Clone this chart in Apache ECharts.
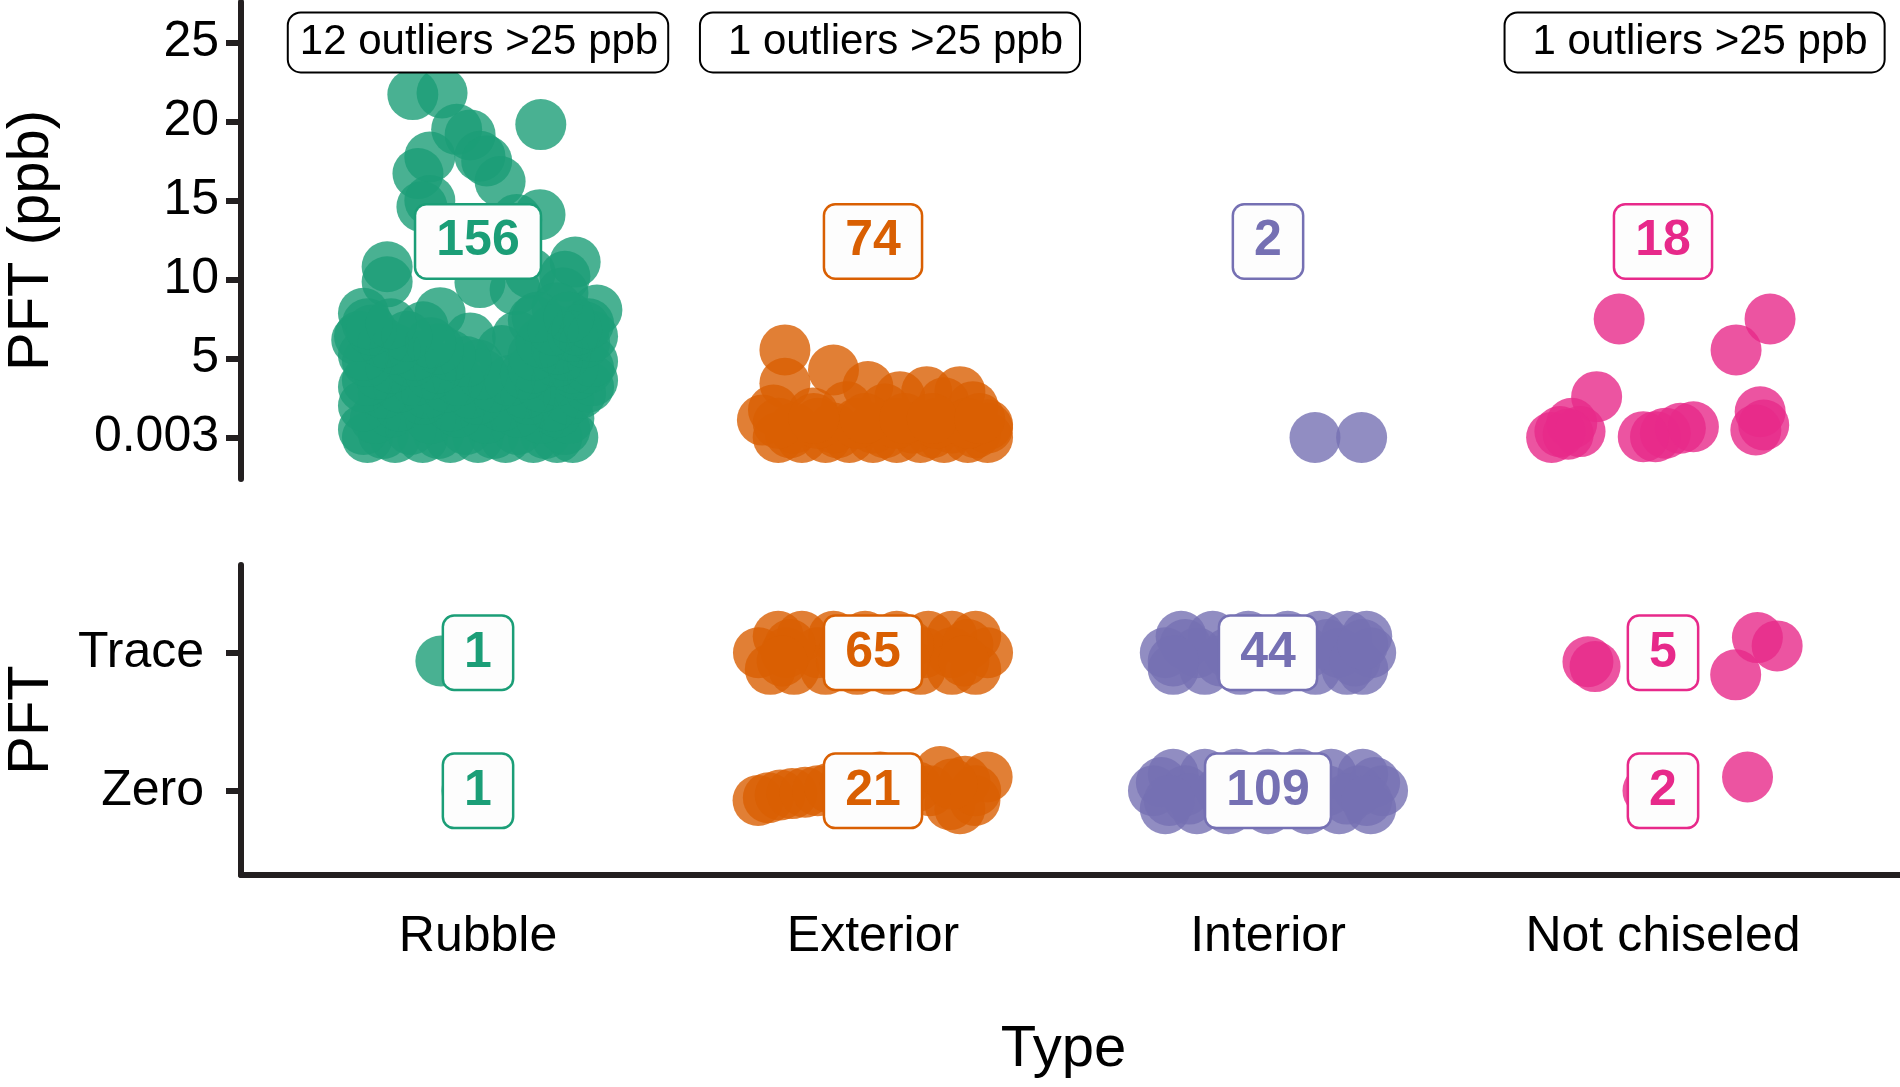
<!DOCTYPE html>
<html><head><meta charset="utf-8">
<script src="https://cdn.jsdelivr.net/npm/echarts@6/dist/echarts.min.js"></script>
<style>html,body{margin:0;padding:0;background:#fff}#c{width:1900px;height:1087px}</style>
</head><body><div id="c"></div>
<script>
// ---------- data ----------
const categories = ['Rubble', 'Exterior', 'Interior', 'Not chiseled'];
const colors = ['#1B9E77', '#D95F02', '#7570B3', '#E7298A'];
const yTickValues = [0, 5, 10, 15, 20, 25];
const yTickLabels = ['0.003', '5', '10', '15', '20', '25'];
const lowTickValues = [1, 2];
const lowTickLabels = ['Zero', 'Trace'];
const countsTop = [156, 74, 2, 18];
const countsTrace = [1, 65, 44, 5];
const countsZero = [1, 21, 109, 2];
const outlierText = ['12 outliers >25 ppb', '1 outliers >25 ppb', '1 outliers >25 ppb'];
const outlierX = [1, 2.043, 4.08];
const outlierY = 25;
const countLabelY = 12.4;

// top panel (ppb) points: [jittered x, value]
const rubbleTop = [
  [0.835,21.7],[0.909,21.8],[1.159,19.8],[0.98,19.15],[0.946,19.5],[0.878,17.75],[1.005,17.8],[1.022,17.5],
  [0.848,16.7],[1.056,16.2],[0.878,15.0],[0.858,14.6],[1.157,14.1],[1.098,13.8],[0.95,13.0],[1.05,12.5],
  [0.77,10.8],[0.77,9.85],[1.246,11.1],[1.22,10.2],[1.005,9.8],[1.094,9.35],[1.132,10.4],[0.904,7.9],
  [1.301,8.07],[1.27,7.0],[0.71,7.86],[0.693,6.17],[0.861,7.0],[1.215,9.15],
  [1.0,4.6],[1.06,5.5],[1.1,6.4],[0.98,6.3],[1.14,7.4],[1.2,8.2],
  [0.72,0],[0.79,0],[0.86,0],[0.93,0],[1.0,0],[1.07,0],[1.14,0],[1.2,0],[1.24,0],
  [0.76,0.25],[0.9,0.25],[1.04,0.25],[1.17,0.25],
  [0.71,0.5],[0.83,0.5],[0.97,0.5],[1.1,0.5],[1.22,0.5],
  [0.74,1.2],[0.88,1.2],[1.02,1.2],[1.16,1.2],[1.23,1.2],
  [0.78,1.6],[0.95,1.6],[1.1,1.6],[1.2,1.6],
  [0.71,2.0],[0.8,2.0],[0.93,2.0],[1.06,2.0],[1.19,2.0],
  [0.86,2.4],[1.0,2.4],[1.13,2.4],[1.23,2.4],
  [0.76,2.8],[0.87,2.8],[0.98,2.8],[1.12,2.8],[1.26,2.8],
  [0.71,3.2],[0.8,3.2],[0.92,3.2],[1.04,3.2],[1.16,3.2],[1.28,3.2],
  [0.72,3.6],[0.84,3.6],[0.95,3.6],[1.08,3.6],[1.2,3.6],[1.29,3.6],
  [0.75,4.0],[0.88,4.0],[1.01,4.0],[1.12,4.0],[1.25,4.0],
  [0.78,4.4],[0.9,4.4],[1.14,4.4],[1.24,4.4],[1.28,4.4],
  [0.72,4.8],[0.83,4.8],[0.97,4.8],[1.2,4.8],[1.29,4.8],
  [0.71,5.2],[0.84,5.2],[0.93,5.2],[1.14,5.2],[1.22,5.2],
  [0.79,5.6],[0.9,5.6],[1.2,5.6],
  [0.76,6.0],[0.88,6.0],[1.16,6.0],[1.27,6.0],
  [0.7,6.4],[0.82,6.4],[1.24,6.4],[1.29,6.4],
  [0.73,6.8],[1.19,6.8],[1.25,6.8],
  [0.72,7.2],[0.78,7.2],[1.28,7.2],
  [1.15,7.6],[1.23,7.6]
];
const exteriorTop = [
  [1.777,5.54],[1.9,4.27],[1.777,3.43],[1.987,3.22],[2.068,2.58],[2.136,2.9],[2.22,2.9],[2.29,0.8],
  [1.72,1.1],[1.748,1.74],[1.848,1.55],[1.933,1.95],[2.253,1.95],[2.18,2.2],[2.03,1.8],
  [1.76,0],[1.82,0],[1.88,0],[1.94,0],[2.0,0],[2.06,0],[2.12,0],[2.18,0],[2.24,0],[2.29,0],
  [1.79,0.3],[1.91,0.3],[2.03,0.3],[2.15,0.3],[2.26,0.3],
  [1.8,0.6],[1.9,0.6],[2.0,0.6],[2.1,0.6],[2.2,0.6],[2.29,0.6],
  [1.76,0.9],[1.86,0.9],[1.96,0.9],[2.06,0.9],[2.16,0.9],[2.24,0.9],
  [1.85,1.2],[1.98,1.2],[2.08,1.2],[2.15,1.2],[2.27,1.2]
];
const interiorTop = [[3.119,0],[3.237,0]];
const notChiseledTop = [
  [3.889,7.5],[4.271,7.5],[4.185,5.54],[3.832,2.58],[4.246,1.63],[4.255,0.79],[4.235,0.47],
  [3.718,0],[3.769,0.9],[3.79,0.37],[3.739,0.37],[3.981,0.05],[4.006,0.27],[4.044,0.58],
  [4.077,0.68],[3.95,0.05],[3.76,0.2]
];

// bottom panel (Zero = 1, Trace = 2) points: [jittered x, jittered level]
const rubbleLow = [[0.906,1.94],[0.972,1.0]];
const exteriorLow = [
  [1.76,2.12],[1.82,2.12],[1.9,2.12],[1.98,2.12],[2.06,2.12],[2.14,2.12],[2.2,2.12],[2.26,2.12],
  [1.71,2.0],[1.78,2.0],[1.86,2.0],[1.95,2.0],[2.05,2.0],[2.13,2.0],[2.2,2.0],[2.29,2.0],
  [1.74,1.88],[1.8,1.88],[1.88,1.88],[1.96,1.88],[2.04,1.88],[2.12,1.88],[2.2,1.88],[2.26,1.88],
  [1.79,2.06],[1.93,2.06],[2.09,2.06],[2.24,2.06],[1.77,1.94],[1.92,1.94],[2.08,1.94],[2.23,1.94],
  [1.709,0.93],[1.735,0.95],[1.765,0.97],[1.795,0.98],[1.828,0.99],[1.86,1.0],[1.891,1.02],
  [1.93,1.05],[1.967,1.07],[2.018,1.1],[2.05,1.08],[2.081,1.06],[2.11,1.03],
  [2.144,1.0],[2.195,0.9],[2.233,1.07],[2.289,1.1],[2.22,0.87],[2.17,1.14],[1.955,0.93],[2.258,0.93],
  [2.26,1.0],[2.2,1.05]
];
const interiorLow = [
  [2.78,2.12],[2.86,2.12],[2.95,2.12],[3.05,2.12],[3.13,2.12],[3.2,2.12],[3.25,2.12],
  [2.74,2.0],[2.82,2.0],[2.9,2.0],[3.0,2.0],[3.1,2.0],[3.18,2.0],[3.26,2.0],
  [2.76,1.88],[2.84,1.88],[2.93,1.88],[3.03,1.88],[3.12,1.88],[3.2,1.88],[3.24,1.88],
  [2.79,2.06],[2.88,1.94],[3.15,2.06],[3.22,1.94],[2.76,1.94],[3.24,2.06],
  [2.76,1.12],[2.84,1.12],[2.92,1.12],[3.0,1.12],[3.08,1.12],[3.16,1.12],[3.24,1.12],
  [2.71,1.0],[2.79,1.0],[2.88,1.0],[2.97,1.0],[3.06,1.0],[3.15,1.0],[3.23,1.0],[3.29,1.0],
  [2.74,0.87],[2.82,0.87],[2.9,0.87],[3.0,0.87],[3.1,0.87],[3.18,0.87],[3.26,0.87],
  [2.73,1.06],[2.8,0.94],[3.2,0.94],[3.27,1.06],[3.25,0.93],[2.75,0.93]
];
const notChiseledLow = [[3.81,1.935],[3.828,1.9],[4.184,1.84],[4.239,2.11],[4.289,2.05],[4.214,1.1],[3.962,1.0]];

const topGroups = [rubbleTop, exteriorTop, interiorTop, notChiseledTop];
const lowGroups = [rubbleLow, exteriorLow, interiorLow, notChiseledLow];

// ---------- chart ----------
const FONT = "'Liberation Sans', Arial, Helvetica, sans-serif";
const AXIS = '#231f20';
const chart = echarts.init(document.getElementById('c'), null, {renderer: 'canvas'});

function lookup(vals, labels, v) {
  const i = vals.findIndex(t => Math.abs(t - v) < 1e-6);
  return i < 0 ? '' : labels[i];
}
function countLabel(n, color) {
  return {
    show: true, position: 'inside', formatter: String(n), opacity: 1,
    color: color, fontSize: 50, fontWeight: 'bold', fontFamily: FONT, lineHeight: 50,
    backgroundColor: '#fdfdfd', borderColor: color, borderWidth: 2.5, borderRadius: 10,
    padding: [11, 20, 11, 20]
  };
}

const series = [];
topGroups.forEach((pts, i) => series.push({
  type: 'scatter', xAxisIndex: 0, yAxisIndex: 0, data: pts, symbol: 'circle', symbolSize: 51,
  itemStyle: {color: colors[i], opacity: 0.8}, silent: true, clip: false, z: 2
}));
lowGroups.forEach((pts, i) => series.push({
  type: 'scatter', xAxisIndex: 1, yAxisIndex: 1, data: pts, symbol: 'circle', symbolSize: 51,
  itemStyle: {color: colors[i], opacity: 0.8}, silent: true, clip: false, z: 2
}));

const topLabels = countsTop.map((n, i) => ({value: [i + 1, countLabelY], label: countLabel(n, colors[i])}));
outlierText.forEach((t, k) => topLabels.push({
  value: [outlierX[k], outlierY],
  label: {
    show: true, position: 'inside', formatter: t, opacity: 1, color: '#000', fontSize: 42, fontFamily: FONT, lineHeight: 42,
    backgroundColor: '#fff', borderColor: '#000', borderWidth: 2, borderRadius: 12,
    padding: k === 0 ? [8, 9, 8, 11] : [8, 16, 8, 27]
  }
}));
series.push({
  type: 'scatter', xAxisIndex: 0, yAxisIndex: 0, data: topLabels, symbolSize: 1,
  itemStyle: {color: 'rgba(0,0,0,0)', opacity: 1}, silent: true, clip: false, z: 10
});
const lowLabels = [];
countsTrace.forEach((n, i) => lowLabels.push({value: [i + 1, 2], label: countLabel(n, colors[i])}));
countsZero.forEach((n, i) => lowLabels.push({value: [i + 1, 1], label: countLabel(n, colors[i])}));
series.push({
  type: 'scatter', xAxisIndex: 1, yAxisIndex: 1, data: lowLabels, symbolSize: 1,
  itemStyle: {color: 'rgba(0,0,0,0)', opacity: 1}, silent: true, clip: false, z: 10
});

const option = {
  animation: false,
  backgroundColor: '#fff',
  grid: [
    {left: 241, right: 0, top: 2, height: 477, outerBoundsMode: 'none', containLabel: false},
    {left: 241, right: 0, top: 565, height: 310, outerBoundsMode: 'none', containLabel: false}
  ],
  xAxis: [
    {gridIndex: 0, type: 'value', min: 0.4, max: 4.6, show: false},
    {gridIndex: 1, type: 'value', min: 0.4, max: 4.6,
     axisLine: {show: true, onZero: false, lineStyle: {color: AXIS, width: 6}},
     axisTick: {show: false}, splitLine: {show: false},
     axisLabel: {customValues: [1, 2, 3, 4], formatter: v => categories[Math.round(v) - 1],
                 fontSize: 50, lineHeight: 50, color: '#000', margin: 37, fontFamily: FONT},
     name: 'Type', nameLocation: 'middle', nameGap: 146,
     nameTextStyle: {fontSize: 58, lineHeight: 58, color: '#000', fontFamily: FONT, padding: [0, 14, 0, 0]}}
  ],
  yAxis: [
    {gridIndex: 0, type: 'value', min: -2.63, max: 27.56,
     axisLine: {show: true, onZero: false, lineStyle: {color: AXIS, width: 6}},
     axisTick: {show: true, customValues: yTickValues, length: 15, lineStyle: {color: AXIS, width: 6}},
     axisLabel: {customValues: yTickValues, formatter: v => lookup(yTickValues, yTickLabels, v),
                 fontSize: 50, color: '#000', margin: 22, fontFamily: FONT},
     splitLine: {show: false},
     name: 'PFT (ppb)', nameLocation: 'middle', nameGap: 180,
     nameTextStyle: {fontSize: 58, lineHeight: 58, color: '#000', fontFamily: FONT}},
    {gridIndex: 1, type: 'value', min: 0.39, max: 2.636,
     axisLine: {show: true, onZero: false, lineStyle: {color: AXIS, width: 6}},
     axisTick: {show: true, customValues: lowTickValues, length: 15, lineStyle: {color: AXIS, width: 6}},
     axisLabel: {customValues: lowTickValues, formatter: v => lookup(lowTickValues, lowTickLabels, v),
                 fontSize: 50, color: '#000', margin: 37, fontFamily: FONT},
     splitLine: {show: false},
     name: 'PFT', nameLocation: 'middle', nameGap: 180,
     nameTextStyle: {fontSize: 58, lineHeight: 58, color: '#000', fontFamily: FONT}}
  ],
  series: series
};
chart.setOption(option);
</script>
</body></html>
